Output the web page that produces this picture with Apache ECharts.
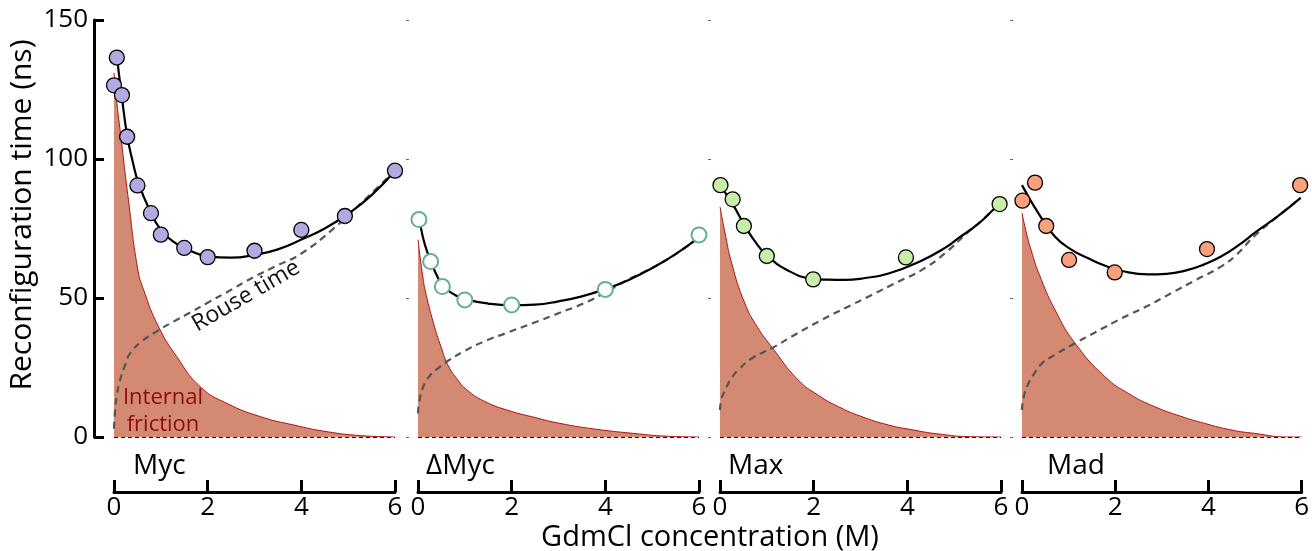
<!DOCTYPE html>
<html>
<head>
<meta charset="utf-8">
<script src="https://cdn.jsdelivr.net/npm/echarts@6/dist/echarts.min.js"></script>
<style>
  html, body { margin: 0; padding: 0; background: #fff; }
  #chart { width: 1312px; height: 551px; }
</style>
</head>
<body>
<div id="chart"></div>
<script>
// Reconfiguration time vs GdmCl, four constructs side by side.
const PANELS = ["Myc", "\u0394Myc", "Max", "Mad"];
const X_MIN = 0, X_MAX = 6, X_STEP = 2;
const Y_MIN = 0, Y_MAX = 150, Y_STEP = 50;

// measured points [M, ns]
const mycPts = [[0, 126.5], [0.06, 136.5], [0.17, 123], [0.28, 108], [0.5, 90.5], [0.79, 80.5],
  [1.0, 72.8], [1.5, 68], [2.0, 64.7], [3.0, 67], [4.0, 74.5], [4.93, 79.5], [6.0, 95.8]];
const dmycPts = [[0.02, 78.2], [0.27, 63.1], [0.52, 54.1], [1.0, 49.3], [2.0, 47.5], [4.0, 53.1], [6.0, 72.7]];
const maxPts = [[0.01, 90.6], [0.27, 85.5], [0.51, 75.9], [1.0, 65.1], [1.99, 56.7], [3.97, 64.6], [5.97, 83.8]];
const madPts = [[0.01, 85.0], [0.28, 91.5], [0.52, 75.9], [1.01, 63.7], [1.99, 59.2], [3.97, 67.6], [5.97, 90.6]];

// fitted total reconfiguration time
const mycFit = [[0.06, 137], [0.17, 122], [0.28, 108.5], [0.4, 99], [0.52, 91.5], [0.75, 82], [1.0, 74.5],
  [1.25, 70.5], [1.5, 68], [2.0, 65], [2.5, 64.5], [3.0, 65.5], [3.5, 67.5], [4.0, 71], [4.5, 75],
  [5.0, 80.3], [5.5, 87], [6.0, 95.8]];
const dmycFit = [[0.06, 75.5], [0.15, 69], [0.29, 62.5], [0.42, 57.5], [0.55, 54], [0.8, 51], [1.0, 49.6],
  [1.5, 48], [2.0, 47.4], [2.5, 47.6], [3.0, 48.8], [3.5, 50.6], [4.0, 53.2], [4.5, 56.5], [5.0, 60.8],
  [5.5, 65.8], [6.0, 71.8]];
const maxFit = [[0.1, 88.2], [0.28, 83.5], [0.52, 76.3], [0.75, 70.3], [1.0, 65.4], [1.46, 59.8], [1.96, 57],
  [2.3, 56.6], [2.67, 56.5], [3.1, 57.2], [3.6, 58.8], [4.31, 63.5], [4.8, 68], [5.09, 71.5], [5.5, 76.5],
  [5.8, 81.2], [5.97, 84]];
const madFit = [[0, 90.6], [0.35, 80.5], [0.71, 72], [1.05, 67.5], [1.42, 64.3], [1.8, 61.5], [2.14, 59.7],
  [2.71, 58.5], [3.1, 58.7], [3.56, 60.1], [3.9, 62], [4.27, 64.9], [4.65, 69], [5.0, 73.5], [5.5, 79.5],
  [5.98, 86]];

// internal friction contribution (shaded)
const mycFric = [[0, 131], [0.05, 122], [0.14, 109], [0.31, 85], [0.5, 61], [0.63, 53], [0.95, 39.7],
  [1.34, 28.9], [1.84, 18.1], [2.41, 12.1], [3.13, 7.3], [3.84, 4.3], [4.55, 1.9], [5.27, 0.5], [6, 0]];
const dmycFric = [[0, 71], [0.05, 64], [0.1, 58], [0.15, 53], [0.33, 41], [0.5, 32], [0.65, 25.5], [0.85, 20.5],
  [1.04, 17], [1.4, 13], [1.9, 9.7], [2.5, 7], [3.03, 4.9], [3.8, 2.8], [4.6, 1.3], [5.3, 0.3], [6, 0]];
const maxFric = [[0, 82.8], [0.1, 74], [0.25, 62.5], [0.53, 48.1], [0.8, 39.5], [1.1, 32.5], [1.67, 20.5],
  [2.1, 15], [2.53, 10.9], [3.0, 7.5], [3.6, 4.3], [4.1, 2.6], [4.66, 1.1], [5.37, 0.1], [6, 0]];
const madFric = [[0, 80.5], [0.1, 73], [0.2, 67], [0.36, 58.9], [0.71, 45.7], [1.14, 33.7], [1.78, 21.7],
  [2.3, 15.5], [2.85, 10.9], [3.4, 7.5], [3.92, 4.9], [4.5, 2.5], [4.99, 1.3], [5.7, 0], [6, 0]];

// Rouse time (dashed)
const mycRouse = [[0, 3], [0.02, 9], [0.06, 15], [0.13, 20.5], [0.25, 26.5], [0.34, 30], [0.6, 34.5], [0.91, 38],
  [1.27, 41.5], [1.63, 44.8], [2.0, 48.3], [2.4, 52], [2.98, 57.5], [3.5, 61.8], [4.0, 66], [4.69, 75],
  [5.3, 84.5], [6, 95.8]];
const dmycRouse = [[0, 8.5], [0.03, 13], [0.11, 18], [0.25, 22], [0.47, 25.3], [0.65, 27.5], [1.0, 31], [1.4, 34.3],
  [1.9, 37.5], [2.46, 41], [3.0, 44.5], [3.53, 48], [4.0, 52], [4.47, 56.5], [5.0, 60.8], [5.5, 65.8], [6, 71.8]];
const maxRouse = [[0, 9.7], [0.03, 13.5], [0.11, 16.9], [0.22, 20.5], [0.39, 24.1], [0.7, 28.5], [1.1, 31.9],
  [1.6, 36.8], [2.17, 42.1], [2.7, 46.6], [3.24, 51.1], [3.8, 55.8], [4.31, 60.1], [4.81, 66.2], [5.3, 73.8],
  [5.6, 78], [5.97, 84]];
const madRouse = [[0, 9.7], [0.03, 14], [0.14, 19.3], [0.25, 22.5], [0.43, 26.5], [0.7, 29.5], [1.07, 33.1],
  [1.6, 37.9], [2.14, 42.7], [2.7, 47.2], [3.2, 51.7], [3.7, 56.2], [4.27, 61.3], [4.6, 65.5], [5.0, 72.5],
  [5.5, 79.5], [5.98, 86]];

const FONT = "'Open Sans', Lato, sans-serif";
const FRIC_FILL = "#d48a72";
const FRIC_LINE = "#b01010";
const MARKERS = [
  { color: "#b3a9e2", border: "#000", bw: 1.3 },
  { color: "#fff", border: "#64af96", bw: 2 },
  { color: "#c8eeaa", border: "#000", bw: 1.3 },
  { color: "#f9a07c", border: "#000", bw: 1.3 },
];
const GRID_LEFT = [114, 418, 720, 1022];
const GRID_W = 281;
const GRID_TOP = 20, GRID_H = 417;
const SMOOTH = 0.5;

const chart = echarts.init(document.getElementById("chart"), null, { renderer: "canvas" });

const grids = GRID_LEFT.map((l) => ({ left: l, top: GRID_TOP, width: GRID_W, height: GRID_H }));

const xAxes = PANELS.map((_, i) => ({
  gridIndex: i, type: "value", min: X_MIN, max: X_MAX, interval: X_STEP,
  position: "bottom", offset: 55,
  axisLine: { onZero: false, lineStyle: { color: "#000", width: 3 } },
  axisTick: { inside: true, length: 12, lineStyle: { color: "#000", width: 3 } },
  axisLabel: { fontSize: 26, color: "#000", margin: 3, fontFamily: FONT },
  splitLine: { show: false },
}));

const yAxes = PANELS.map((_, i) => i === 0 ? {
  gridIndex: 0, type: "value", min: Y_MIN, max: Y_MAX, interval: Y_STEP, offset: 20,
  axisLine: { show: true, onZero: false, lineStyle: { color: "#000", width: 3 } },
  axisTick: { show: true, inside: true, length: 10, lineStyle: { color: "#000", width: 3 } },
  axisLabel: { fontSize: 26, color: "#000", margin: 6, fontFamily: FONT },
  splitLine: { show: false },
} : {
  gridIndex: i, type: "value", min: Y_MIN, max: Y_MAX, interval: Y_STEP, offset: 9,
  axisLine: { show: false, onZero: false },
  axisTick: { show: true, length: 3, lineStyle: { color: "#666", width: 1 } },
  axisLabel: { show: false },
  splitLine: { show: false },
});

const sets = [
  [mycFric, mycRouse, mycFit, mycPts],
  [dmycFric, dmycRouse, dmycFit, dmycPts],
  [maxFric, maxRouse, maxFit, maxPts],
  [madFric, madRouse, madFit, madPts],
];

const series = [];
sets.forEach(([fric, rouse, fit, pts], i) => {
  const ax = { xAxisIndex: i, yAxisIndex: i };
  series.push({
    ...ax, type: "line", data: fric, smooth: SMOOTH, showSymbol: false, z: 1,
    lineStyle: { color: FRIC_LINE, width: 1 },
    areaStyle: { color: FRIC_FILL, opacity: 1 },
    markLine: {
      silent: true, symbol: "none", label: { show: false },
      lineStyle: { color: "#000", width: 1.2, type: [4, 3] },
      data: [{ yAxis: 0 }],
    },
  });
  series.push({
    ...ax, type: "line", data: rouse, smooth: SMOOTH, showSymbol: false, z: 2,
    lineStyle: { color: "#555", width: 2.2, type: [7, 5] },
  });
  series.push({
    ...ax, type: "line", data: fit, smooth: SMOOTH, showSymbol: false, z: 3,
    lineStyle: { color: "#000", width: 2.2 },
  });
  const m = MARKERS[i];
  series.push({
    ...ax, type: "scatter", data: pts, symbolSize: 15, z: 4,
    itemStyle: { color: m.color, borderColor: m.border, borderWidth: m.bw, opacity: 1 },
  });
});

const txt = (x, y, text, extra) => ({
  type: "text", x, y, silent: true, z: 100,
  style: Object.assign({ text, fontFamily: FONT, fontSize: 28, fill: "#000",
    align: "center", verticalAlign: "middle" }, extra || {}),
});

const LABEL_X = [133, 426, 728, 1047];
const graphic = [
  Object.assign(txt(22, 215, "Reconfiguration time (ns)", { fontSize: 30 }), { rotation: Math.PI / 2 }),
  txt(710, 538, "GdmCl concentration (M)", { fontSize: 29 }),
  txt(163, 411, "Internal\nfriction", { fontSize: 22, fill: "#8b0d0d", lineHeight: 27 }),
  ...PANELS.map((p, i) => txt(LABEL_X[i], 466, p, { align: "left" })),
  Object.assign(txt(246, 296, "Rouse time", { fontSize: 23, fill: "#111" }),
    { rotation: 30 * Math.PI / 180 }),
];

chart.setOption({
  animation: false,
  textStyle: { fontFamily: FONT },
  grid: grids,
  xAxis: xAxes,
  yAxis: yAxes,
  series,
  graphic,
});
</script>
</body>
</html>
